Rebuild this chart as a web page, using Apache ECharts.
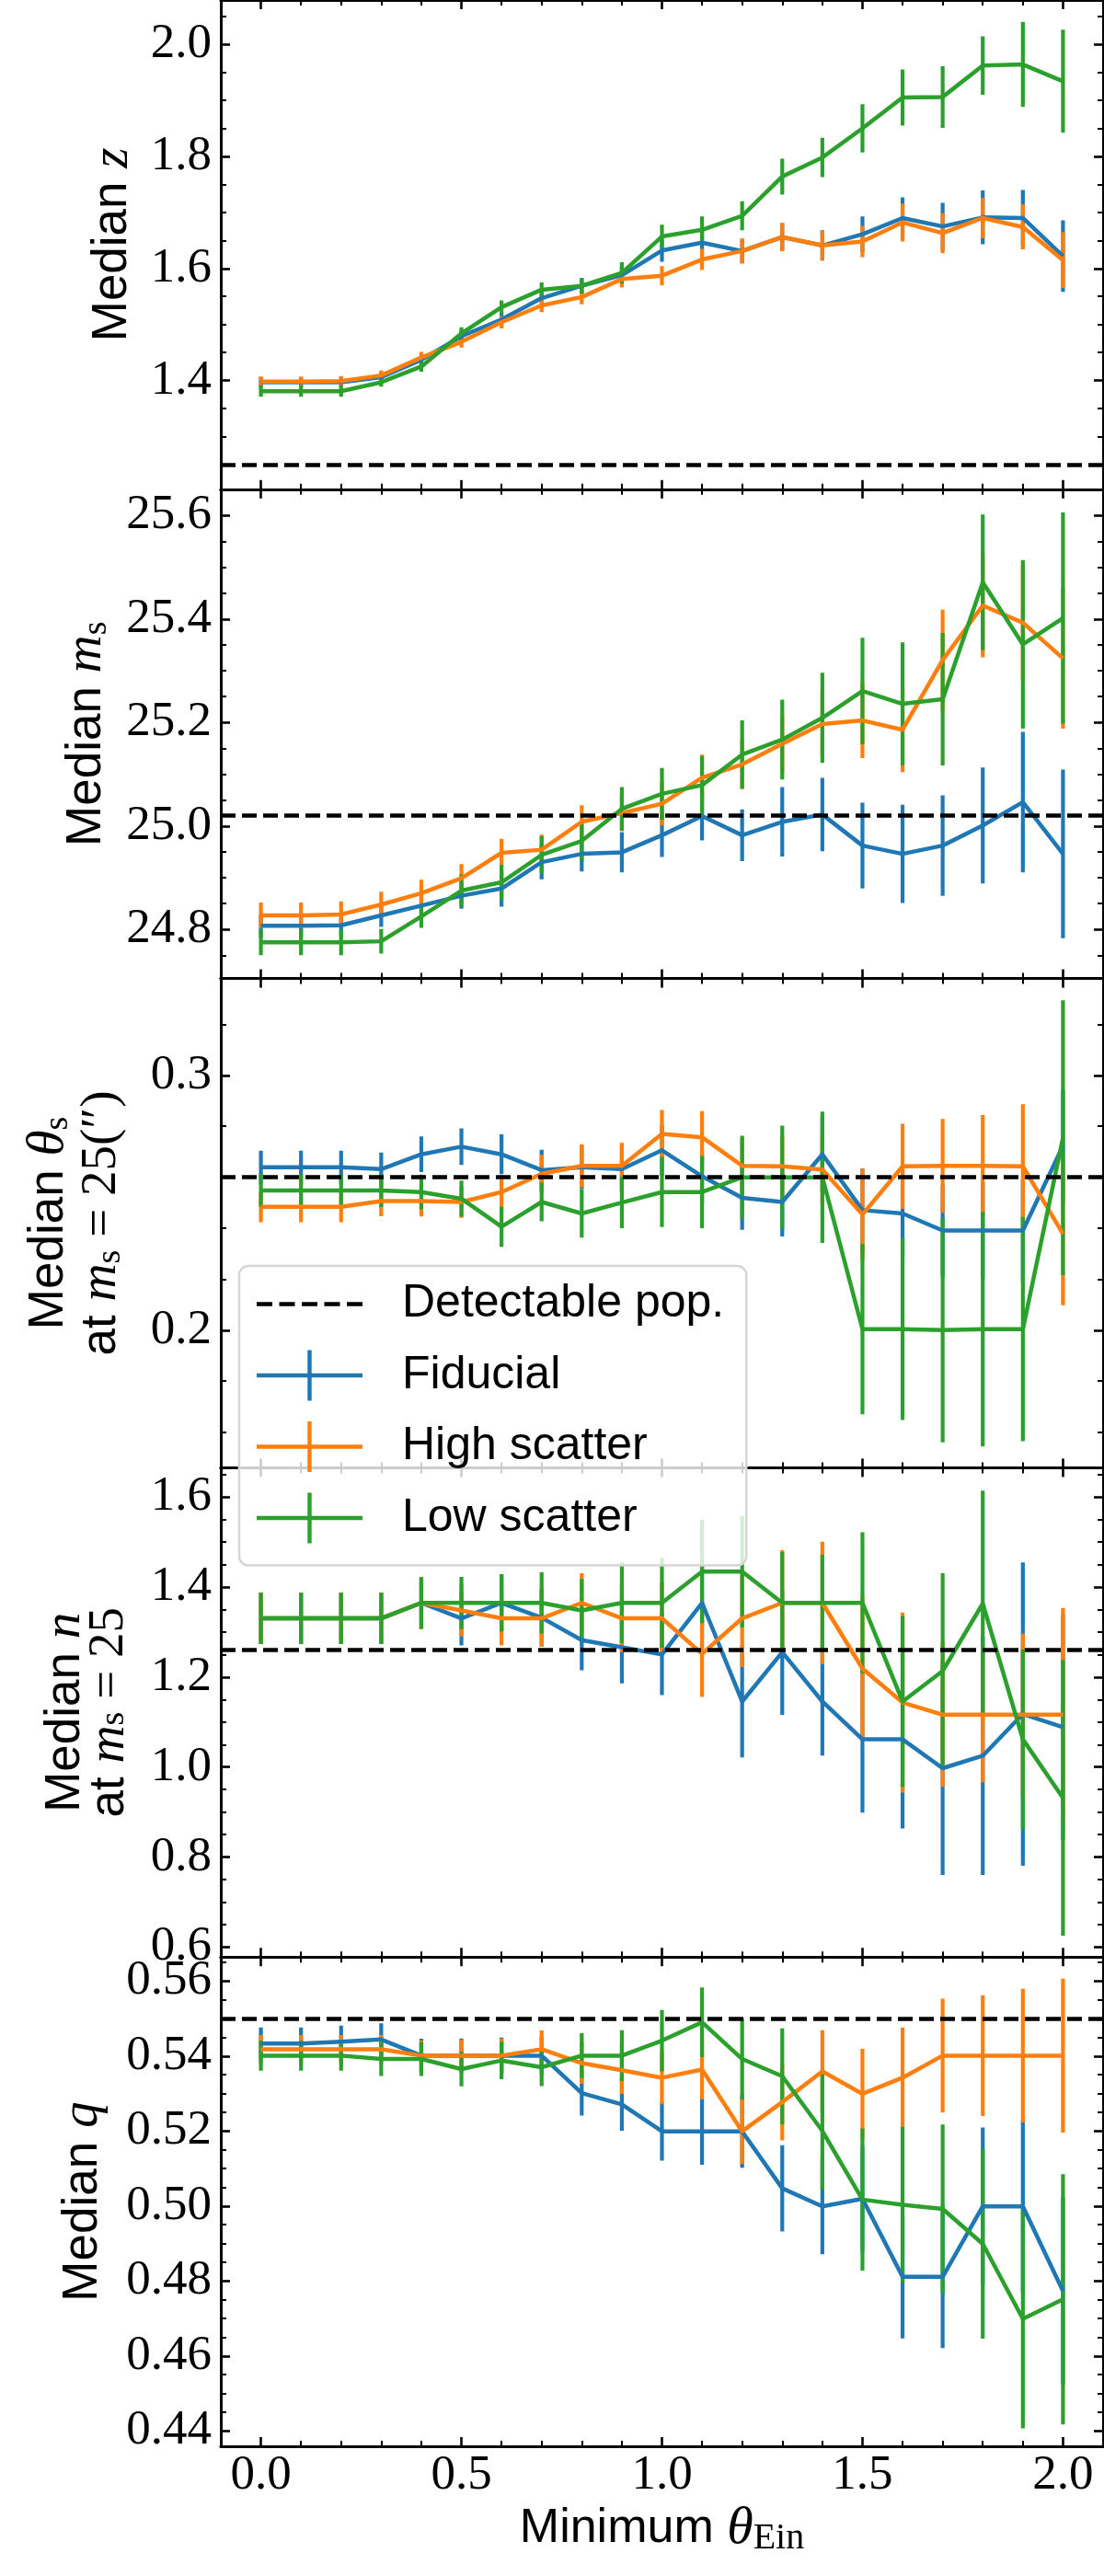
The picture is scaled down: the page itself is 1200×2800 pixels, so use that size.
<!DOCTYPE html>
<html>
<head>
<meta charset="utf-8">
<script src="https://cdn.jsdelivr.net/npm/echarts@6/dist/echarts.min.js"></script>
<style>
html,body{margin:0;padding:0;background:#fff;}
#c{width:1200px;height:2800px;}
</style>
</head>
<body>
<div id="c"></div>
<script>
// ---------------- data ----------------
const thetaMin = [0.0,0.1,0.2,0.3,0.4,0.5,0.6,0.7,0.8,0.9,1.0,1.1,1.2,1.3,1.4,1.5,1.6,1.7,1.8,1.9,2.0];

// Median z
const fidZ     = [1.397,1.397,1.397,1.406,1.437,1.479,1.509,1.547,1.569,1.588,1.632,1.646,1.631,1.656,1.641,1.661,1.690,1.675,1.691,1.690,1.622];
const fidZErr  = [0.009,0.009,0.009,0.009,0.010,0.011,0.012,0.013,0.014,0.016,0.020,0.022,0.022,0.025,0.027,0.032,0.037,0.042,0.048,0.050,0.064];
const highZ    = [1.398,1.398,1.399,1.409,1.441,1.469,1.504,1.534,1.549,1.581,1.587,1.616,1.631,1.656,1.641,1.648,1.682,1.663,1.690,1.674,1.615];
const highZErr = [0.009,0.009,0.009,0.009,0.010,0.010,0.011,0.012,0.013,0.015,0.017,0.019,0.022,0.025,0.026,0.028,0.034,0.036,0.036,0.040,0.050];
const lowZ     = [1.381,1.381,1.381,1.397,1.425,1.484,1.531,1.562,1.569,1.592,1.657,1.669,1.694,1.764,1.798,1.850,1.905,1.906,1.962,1.964,1.934];
const lowZErr  = [0.010,0.010,0.010,0.008,0.009,0.011,0.012,0.013,0.014,0.019,0.021,0.024,0.026,0.032,0.035,0.043,0.050,0.055,0.052,0.076,0.092];

// Median m_s
const fidM     = [24.807,24.807,24.808,24.827,24.846,24.865,24.879,24.930,24.946,24.949,24.982,25.019,24.982,25.008,25.022,24.962,24.946,24.962,25.001,25.046,24.946];
const fidMErr  = [0.022,0.022,0.022,0.022,0.024,0.025,0.035,0.033,0.034,0.039,0.042,0.047,0.050,0.067,0.071,0.083,0.095,0.097,0.112,0.136,0.163];
const highM    = [24.827,24.827,24.829,24.848,24.870,24.899,24.948,24.954,25.008,25.025,25.043,25.093,25.119,25.159,25.197,25.204,25.186,25.321,25.426,25.393,25.324];
const highMErr = [0.025,0.025,0.025,0.025,0.026,0.027,0.027,0.029,0.032,0.035,0.042,0.045,0.048,0.055,0.060,0.073,0.082,0.097,0.100,0.110,0.136];
const lowM     = [24.775,24.775,24.775,24.777,24.825,24.875,24.891,24.944,24.971,25.033,25.062,25.079,25.138,25.167,25.209,25.261,25.236,25.245,25.471,25.351,25.402];
const lowMErr  = [0.025,0.025,0.025,0.024,0.022,0.031,0.034,0.036,0.038,0.042,0.050,0.056,0.066,0.077,0.087,0.103,0.119,0.128,0.131,0.163,0.204];

// Median theta_s at m_s = 25
const fidT     = [0.2639,0.2639,0.2639,0.2632,0.2690,0.2720,0.2690,0.2628,0.2639,0.2632,0.2706,0.2604,0.2519,0.2503,0.2690,0.2471,0.2458,0.2391,0.2391,0.2391,0.2723];
const fidTErr  = [0.0065,0.0065,0.0065,0.0065,0.0070,0.0072,0.0078,0.0080,0.0085,0.0090,0.0100,0.0110,0.0125,0.0135,0.0150,0.0164,0.0170,0.0180,0.0190,0.0200,0.0220];
const highT    = [0.2484,0.2484,0.2484,0.2507,0.2507,0.2503,0.2542,0.2613,0.2645,0.2645,0.2770,0.2757,0.2645,0.2643,0.2630,0.2454,0.2643,0.2645,0.2645,0.2643,0.2378];
const highTErr = [0.0060,0.0060,0.0060,0.0060,0.0061,0.0062,0.0066,0.0075,0.0085,0.0090,0.0094,0.0103,0.0110,0.0120,0.0135,0.0180,0.0167,0.0184,0.0199,0.0244,0.0280];
const lowT     = [0.2548,0.2548,0.2548,0.2548,0.2542,0.2516,0.2406,0.2503,0.2458,0.2501,0.2542,0.2542,0.2600,0.2600,0.2600,0.2004,0.2004,0.2000,0.2004,0.2004,0.2755];
const lowTErr  = [0.0065,0.0065,0.0065,0.0065,0.0068,0.0071,0.0079,0.0076,0.0095,0.0101,0.0137,0.0142,0.0163,0.0203,0.0258,0.0334,0.0357,0.0440,0.0460,0.0440,0.0540];

// Median n at m_s = 25
const fidN     = [1.3305,1.3305,1.3305,1.3305,1.3648,1.3305,1.3648,1.3319,1.2822,1.2662,1.2501,1.3648,1.1457,1.2552,1.1457,1.0616,1.0616,0.9974,1.0251,1.1179,1.0887];
const fidNErr  = [0.057,0.057,0.057,0.057,0.058,0.060,0.062,0.064,0.067,0.080,0.090,0.100,0.124,0.139,0.120,0.163,0.198,0.237,0.265,0.337,0.250];
const highN    = [1.3305,1.3305,1.3305,1.3305,1.3648,1.3480,1.3305,1.3305,1.3648,1.3305,1.3305,1.2516,1.3305,1.3648,1.3648,1.2187,1.1435,1.1164,1.1164,1.1164,1.1164];
const highNErr = [0.057,0.057,0.057,0.057,0.058,0.058,0.060,0.062,0.066,0.075,0.080,0.096,0.108,0.117,0.136,0.160,0.200,0.160,0.150,0.180,0.237];
const lowN     = [1.3305,1.3305,1.3305,1.3305,1.3648,1.3648,1.3648,1.3648,1.3480,1.3648,1.3648,1.4342,1.4342,1.3648,1.3648,1.3648,1.1457,1.2136,1.3633,1.0616,0.9316];
const lowNErr  = [0.057,0.057,0.057,0.057,0.057,0.058,0.064,0.068,0.070,0.090,0.100,0.115,0.124,0.113,0.107,0.157,0.190,0.217,0.251,0.200,0.306];

// Median q
const fidQ     = [0.5433,0.5433,0.5438,0.5444,0.5401,0.5401,0.5401,0.5401,0.5301,0.5271,0.5199,0.5199,0.5199,0.5047,0.4999,0.5019,0.4811,0.4811,0.4999,0.4999,0.4773];
const fidQErr  = [0.0043,0.0043,0.0043,0.0043,0.0045,0.0046,0.0048,0.0050,0.0060,0.0070,0.0078,0.0089,0.0097,0.0115,0.0128,0.0140,0.0164,0.0190,0.0210,0.0230,0.0250];
const highQ    = [0.5418,0.5418,0.5418,0.5418,0.5401,0.5401,0.5401,0.5418,0.5381,0.5362,0.5342,0.5364,0.5199,0.5277,0.5359,0.5299,0.5342,0.5401,0.5401,0.5401,0.5401];
const highQErr = [0.0038,0.0038,0.0038,0.0038,0.0040,0.0042,0.0045,0.0050,0.0055,0.0063,0.0071,0.0080,0.0087,0.0102,0.0110,0.0120,0.0134,0.0152,0.0161,0.0178,0.0205];
const lowQ     = [0.5401,0.5401,0.5401,0.5392,0.5392,0.5365,0.5388,0.5370,0.5401,0.5401,0.5441,0.5490,0.5392,0.5346,0.5200,0.5017,0.5003,0.4992,0.4899,0.4699,0.4751];
const lowQErr  = [0.0040,0.0040,0.0040,0.0045,0.0045,0.0046,0.0050,0.0050,0.0060,0.0068,0.0082,0.0093,0.0108,0.0128,0.0157,0.0189,0.0208,0.0225,0.0253,0.0292,0.0334];

// Detectable population medians (dashed lines)
const detectable = [1.246, 25.023, 0.2574, 1.265, 0.5497];

// Axis ranges and tick labels
const yMin = [1.206, 24.705, 0.146, 0.578, 0.4359];
const yMax = [2.079, 25.651, 0.338, 1.665, 0.5664];
const zTicks     = [1.4, 1.6, 1.8, 2.0];
const msTicks    = [24.8, 25.0, 25.2, 25.4, 25.6];
const thetaTicks = [0.2, 0.3];
const nTicks     = [0.6, 0.8, 1.0, 1.2, 1.4, 1.6];
const qTicks     = [0.44, 0.46, 0.48, 0.50, 0.52, 0.54, 0.56];
const yMinorStep = [0.05, 0.05, 0.02, 0.05, 0.005];
const yDecimals  = [1, 1, 1, 1, 2];
const xTicks     = [0.0, 0.5, 1.0, 1.5, 2.0];
const xMin = -0.1, xMax = 2.1, xMinorStep = 0.1;

const seriesNames  = ['Fiducial', 'High scatter', 'Low scatter'];
const seriesColors = ['#1f77b4', '#ff7f0e', '#2ca02c'];

// ---------------- layout ----------------
const GRID_LEFT = 240, GRID_W = 959, PANEL_H = 531.8;
const SANS = "'Liberation Sans', Arial, sans-serif";
const NARROW = "'Liberation Sans Narrow', 'Liberation Sans', sans-serif";
const SERIF = "'Liberation Serif', 'Times New Roman', serif";
const LINE_W = 4.5, BAR_W = 4.2, SPINE_W = 3;

function minorTicks(lo, hi, step, major) {
  const out = [];
  for (let k = Math.ceil(lo / step - 1e-9); k * step <= hi + 1e-9; k++) {
    const v = +(k * step).toFixed(6);
    if (v <= lo + 1e-9 || v >= hi - 1e-9) continue;
    if (major.some(m => Math.abs(m - v) < step * 0.01)) continue;
    out.push(v);
  }
  return out;
}

function richStyles(lh) {
  return {
    t: {fontFamily: NARROW, fontSize: 53, lineHeight: lh, color: '#000'},
    m: {fontFamily: SERIF, fontStyle: 'italic', fontSize: 57, lineHeight: lh, color: '#000'},
    r: {fontFamily: SERIF, fontSize: 55, lineHeight: lh, color: '#000'},
    s: {fontFamily: SERIF, fontSize: 38, lineHeight: 38, verticalAlign: 'bottom', color: '#000'}
  };
}

const panelTicks = [zTicks, msTicks, thetaTicks, nTicks, qTicks];
const panelNames = [
  '{t|Median} {m|z}',
  '{t|Median} {m|m}{s|s}',
  '{t|Median} {m|θ}{s|s}\n{t|at} {m|m}{s|s}{r| = 25(″)}',
  '{t|Median} {m|n}\n{t|at} {m|m}{s|s}{r| = 25}',
  '{t|Median} {m|q}'
];
const panelNameGap = [82, 116, 101, 97, 120];
const panelLineH = [60, 60, 57, 48, 60];
const panelData = [
  [[fidZ, fidZErr], [highZ, highZErr], [lowZ, lowZErr]],
  [[fidM, fidMErr], [highM, highMErr], [lowM, lowMErr]],
  [[fidT, fidTErr], [highT, highTErr], [lowT, lowTErr]],
  [[fidN, fidNErr], [highN, highNErr], [lowN, lowNErr]],
  [[fidQ, fidQErr], [highQ, highQErr], [lowQ, lowQErr]]
];

const grids = [], xAxes = [], yAxes = [], series = [];
const xMinor = minorTicks(xMin, xMax, xMinorStep, xTicks);

for (let g = 0; g < 5; g++) {
  grids.push({left: GRID_LEFT, top: g * PANEL_H, width: GRID_W, height: PANEL_H, containLabel: false});
  const last = g === 4;
  const major = panelTicks[g];
  const yMinor = minorTicks(yMin[g], yMax[g], yMinorStep[g], major);
  const dec = yDecimals[g];

  const baseX = {gridIndex: g, type: 'value', min: xMin, max: xMax, splitLine: {show: false}, minorTick: {show: false}, silent: true};
  const baseY = {gridIndex: g, type: 'value', min: yMin[g], max: yMax[g], splitLine: {show: false}, minorTick: {show: false}, silent: true};
  const lineOn = {show: true, onZero: false, lineStyle: {color: '#000', width: SPINE_W}};
  const lineOff = {show: false, onZero: false};
  const majTick = vals => ({show: true, inside: true, length: 10, customValues: vals, lineStyle: {color: '#000', width: 2.6}});
  const minTick = vals => ({show: true, inside: true, length: 6, customValues: vals, lineStyle: {color: '#000', width: 2}});

  // x axes: bottom major, bottom minor, top major, top minor
  const xMain = Object.assign({}, baseX, {
    position: 'bottom', axisLine: lineOn, axisTick: majTick(xTicks),
    axisLabel: {show: last, customValues: xTicks, margin: 6, formatter: v => v.toFixed(1),
      fontFamily: SERIF, fontSize: 53, lineHeight: 52, color: '#000'}
  });
  if (last) {
    xMain.name = '{t|Minimum} {m|θ}{s|Ein}';
    xMain.nameLocation = 'middle';
    xMain.nameGap = 60;
    xMain.nameTextStyle = {fontFamily: SANS, fontSize: 52, lineHeight: 60, color: '#000',
      rich: {
        t: {fontFamily: SANS, fontSize: 52, lineHeight: 60, color: '#000'},
        m: {fontFamily: SERIF, fontStyle: 'italic', fontSize: 58, lineHeight: 60, color: '#000'},
        s: {fontFamily: SERIF, fontSize: 40, lineHeight: 40, verticalAlign: 'bottom', color: '#000'}
      }};
  }
  xAxes.push(xMain);
  xAxes.push(Object.assign({}, baseX, {position: 'bottom', axisLine: lineOff, axisTick: minTick(xMinor), axisLabel: {show: false}}));
  xAxes.push(Object.assign({}, baseX, {position: 'top', axisLine: lineOn, axisTick: majTick(xTicks), axisLabel: {show: false}}));
  xAxes.push(Object.assign({}, baseX, {position: 'top', axisLine: lineOff, axisTick: minTick(xMinor), axisLabel: {show: false}}));

  // y axes: left major (labels+name), left minor, right major, right minor
  yAxes.push(Object.assign({}, baseY, {
    position: 'left', axisLine: lineOn, axisTick: majTick(major),
    axisLabel: {show: true, customValues: major, margin: 10, formatter: v => v.toFixed(dec),
      fontFamily: SERIF, fontSize: 53, lineHeight: 52, color: '#000'},
    name: panelNames[g], nameLocation: 'middle', nameRotate: 90, nameGap: panelNameGap[g],
    nameTextStyle: {fontFamily: NARROW, fontSize: 53, lineHeight: panelLineH[g], color: '#000', align: 'center',
      rich: richStyles(panelLineH[g])}
  }));
  yAxes.push(Object.assign({}, baseY, {position: 'left', axisLine: lineOff, axisTick: minTick(yMinor), axisLabel: {show: false}}));
  yAxes.push(Object.assign({}, baseY, {position: 'right', axisLine: lineOn, axisTick: majTick(major), axisLabel: {show: false}}));
  yAxes.push(Object.assign({}, baseY, {position: 'right', axisLine: lineOff, axisTick: minTick(yMinor), axisLabel: {show: false}}));

  const xi = 4 * g, yi = 4 * g;

  // Detectable population dashed line
  series.push({
    name: 'Detectable pop.', type: 'line', xAxisIndex: xi, yAxisIndex: yi, data: [],
    symbol: 'none', silent: true, z: 1,
    itemStyle: {color: '#000'}, lineStyle: {color: '#000', width: LINE_W, type: [16, 7]},
    markLine: {silent: true, symbol: ['none', 'none'], animation: false, label: {show: false},
      lineStyle: {color: '#000', width: LINE_W, type: [16, 7]},
      emphasis: {disabled: true},
      data: [{yAxis: detectable[g]}]}
  });

  for (let s = 0; s < 3; s++) {
    const vals = panelData[g][s][0], errs = panelData[g][s][1];
    const color = seriesColors[s];
    series.push({
      name: seriesNames[s], type: 'custom', xAxisIndex: xi, yAxisIndex: yi, silent: true, z: 2, clip: true,
      itemStyle: {color: color},
      encode: {x: 0, y: [1, 2]},
      data: thetaMin.map((x, i) => [x, vals[i] - errs[i], vals[i] + errs[i]]),
      renderItem: function (params, api) {
        const p1 = api.coord([api.value(0), api.value(1)]);
        const p2 = api.coord([api.value(0), api.value(2)]);
        return {type: 'line', shape: {x1: p1[0], y1: p1[1], x2: p2[0], y2: p2[1]},
          style: {stroke: color, lineWidth: BAR_W}};
      }
    });
    series.push({
      name: seriesNames[s], type: 'line', xAxisIndex: xi, yAxisIndex: yi, silent: true, z: 2,
      data: thetaMin.map((x, i) => [x, vals[i]]),
      symbol: 'none', itemStyle: {color: color},
      lineStyle: {color: color, width: LINE_W, join: 'round'},
      emphasis: {disabled: true}
    });
  }
}

const DASH_ICON = 'path://M0,0h17v4.5h-17Z M24.5,0h17v4.5h-17Z M49,0h17v4.5h-17Z M73.5,0h17v4.5h-17Z M98,0h17v4.5h-17Z';
const PLUS_ICON = 'path://M0,25.3H115V29.7H0Z M55.3,0H59.7V55H55.3Z';

const option = {
  animation: false,
  backgroundColor: '#fff',
  grid: grids,
  xAxis: xAxes,
  yAxis: yAxes,
  legend: {
    orient: 'vertical', left: 260, top: 1376,
    padding: [14, 24, 24, 19],
    itemWidth: 115, itemHeight: 55, itemGap: 22.5,
    backgroundColor: 'rgba(255,255,255,0.8)',
    borderColor: '#d6d6d6', borderWidth: 2.5, borderRadius: 10,
    selectedMode: false,
    itemStyle: {borderWidth: 0},
    textStyle: {fontFamily: SANS, fontSize: 50, lineHeight: 55, color: '#000', padding: [0, 0, 0, 38]},
    data: [
      {name: 'Detectable pop.', icon: DASH_ICON},
      {name: 'Fiducial', icon: PLUS_ICON},
      {name: 'High scatter', icon: PLUS_ICON},
      {name: 'Low scatter', icon: PLUS_ICON}
    ]
  },
  series: series
};

const chart = echarts.init(document.getElementById('c'), null, {renderer: 'canvas', width: 1200, height: 2800});
chart.setOption(option);
</script>
</body>
</html>
